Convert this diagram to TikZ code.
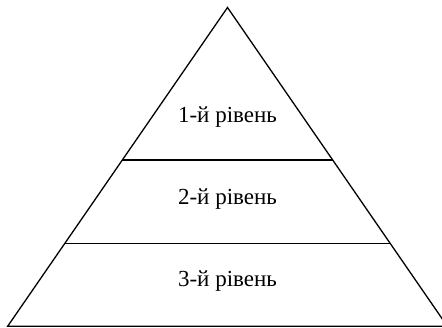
\documentclass[tikz,border=0pt]{standalone}
\usepackage{fontspec}
\setmainfont{Liberation Serif}
\usepackage{tikz}
\usetikzlibrary{calc}

\begin{document}
\begin{tikzpicture}[x=0.5pt, y=-0.5pt, line width=0.65pt,
    every node/.style={font=\fontsize{11.5}{13}\selectfont, inner sep=0pt}]
    \useasboundingbox (0,0) rectangle (442,327);
    \coordinate (apex) at (227.5,7.5);
    \coordinate (baseL) at (7.7,326.2);
    \coordinate (baseR) at (447.3,326.2);
    \coordinate (l1a) at ($(apex)!0.4788!(baseL)$);
    \coordinate (l1b) at ($(apex)!0.4788!(baseR)$);
    \coordinate (l2a) at ($(apex)!0.7394!(baseL)$);
    \coordinate (l2b) at ($(apex)!0.7394!(baseR)$);
    \node (lev1) at (227.5,117) {1-й рівень};
    \node (lev2) at (227.5,199) {2-й рівень};
    \node (lev3) at (227.5,281) {3-й рівень};
    \draw (baseL) -- (apex) -- (baseR) -- cycle;
    \draw (l1a) -- (l1b);
    \draw (l2a) -- (l2b);
\end{tikzpicture}
\end{document}
